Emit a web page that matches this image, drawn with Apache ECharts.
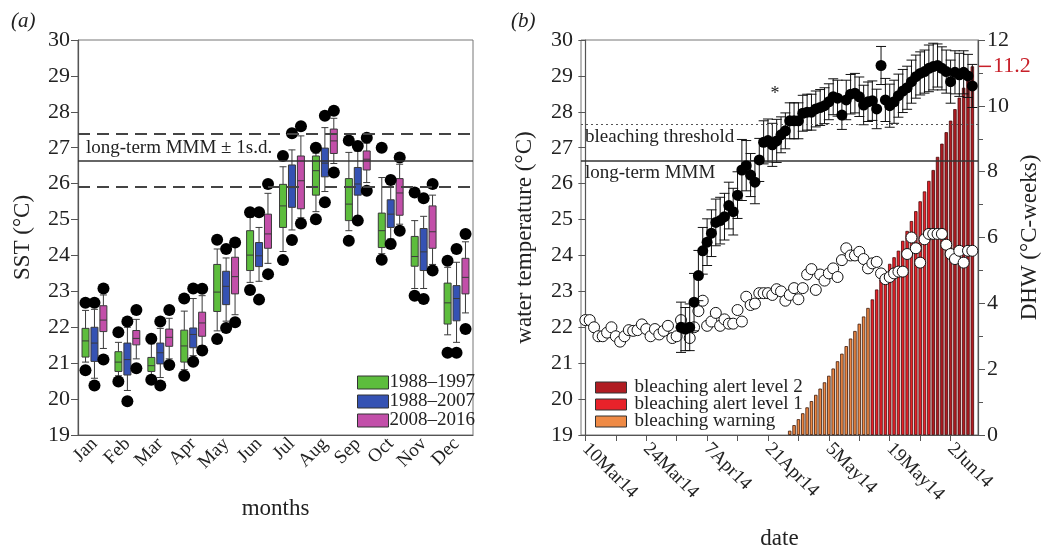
<!DOCTYPE html>
<html>
<head>
<meta charset="utf-8">
<script src="https://cdn.jsdelivr.net/npm/echarts@6/dist/echarts.min.js"></script>
<style>
  html, body { margin: 0; padding: 0; background: #fff; }
  #main { width: 1053px; height: 546px; }
</style>
</head>
<body>
<div id="main"></div>
<script>
// ---- panel (a): monthly SST ----
var months = ["Jan", "Feb", "Mar", "Apr", "May", "Jun", "Jul", "Aug", "Sep", "Oct", "Nov", "Dec"];
var periods = ["1988–1997", "1988–2007", "2008–2016"];
// [min, Q1, median, Q3, max]
var box8897 = [
  [21.03, 21.17, 21.62, 21.97, 22.47], [20.65, 20.77, 21.03, 21.32, 21.58],
  [20.6, 20.77, 20.93, 21.16, 21.54], [20.82, 21.03, 21.48, 21.92, 22.45],
  [21.9, 22.44, 22.98, 23.75, 24.18], [23.25, 23.58, 24.01, 24.69, 25.06],
  [24.11, 24.78, 25.38, 25.98, 26.47], [25.22, 25.68, 26.36, 26.77, 26.85],
  [24.69, 24.97, 25.43, 26.14, 26.87], [24.05, 24.22, 24.69, 25.18, 26.17],
  [23.08, 23.7, 23.97, 24.53, 24.97], [21.79, 22.09, 22.68, 23.23, 23.67]
];
var box8807 = [
  [20.58, 21.05, 21.56, 22.0, 22.5], [20.24, 20.67, 21.1, 21.56, 22.0],
  [20.6, 20.98, 21.29, 21.56, 21.97], [21.21, 21.43, 21.8, 21.98, 22.8],
  [22.17, 22.63, 23.14, 23.56, 23.93], [23.28, 23.69, 23.99, 24.36, 24.78],
  [24.71, 25.34, 25.89, 26.52, 26.94], [25.78, 26.19, 26.57, 26.99, 27.56],
  [25.1, 25.68, 25.99, 26.45, 26.9], [24.46, 24.78, 25.15, 25.55, 26.0],
  [23.08, 23.58, 24.1, 24.75, 25.09], [21.58, 22.18, 22.8, 23.16, 23.81]
];
var box0816 = [
  [21.41, 21.88, 22.2, 22.6, 22.9], [21.12, 21.51, 21.69, 21.91, 22.22],
  [21.12, 21.47, 21.72, 21.95, 22.25], [21.49, 21.75, 22.12, 22.42, 22.88],
  [22.35, 22.93, 23.41, 23.95, 24.32], [23.78, 24.2, 24.6, 25.15, 25.73],
  [25.05, 25.3, 26.08, 26.77, 27.33], [26.56, 26.84, 27.19, 27.52, 27.82],
  [26.03, 26.38, 26.68, 26.91, 27.13], [24.87, 25.12, 25.74, 26.14, 26.54],
  [23.75, 24.2, 24.66, 25.38, 25.68], [22.4, 22.93, 23.39, 23.92, 24.38]
];
// outliers: [high, low] per month
var out8897 = [[22.68, 20.8], [21.86, 20.49], [21.68, 20.54], [22.8, 20.65], [24.44, 21.67], [25.2, 23.04],
  [26.77, 23.87], [27.0, 25.01], [27.2, 24.41], [27.0, 23.88], [25.75, 22.88], [23.85, 21.29]];
var out8807 = [[22.68, 20.38], [22.16, 19.94], [22.16, 20.38], [23.08, 21.04], [24.18, 21.98], [25.2, 22.77],
  [27.4, 24.43], [27.89, 25.48], [27.05, 24.97], [26.1, 24.32], [25.59, 22.79], [24.18, 21.29]];
var out0816 = [[23.08, 21.1], [22.48, 20.86], [22.48, 20.95], [23.07, 21.35], [24.36, 22.14], [25.99, 23.48],
  [27.6, 24.89], [28.03, 26.31], [27.28, 25.8], [26.73, 24.69], [25.99, 23.58], [24.6, 21.95]];
var mmm = 26.65;
var mmmSd = 0.75;

// ---- panel (b): 2014 daily series, day 0 = 10 Mar 2014 ----
var dateTickDays = [0, 14, 28, 42, 56, 70, 84];
var dateLabels = ["10Mar14", "24Mar14", "7Apr14", "21Apr14", "5May14", "19May14", "2Jun14"];
var weekTickDays = [0, 7, 14, 21, 28, 35, 42, 49, 56, 63, 70, 77, 84];
// open circles, from day 0
var openTemp = [
  22.2, 22.2, 22.0, 21.75, 21.75, 21.85, 22.0, 21.75, 21.6, 21.75,
  21.92, 21.9, 21.92, 22.08, 21.95, 21.75, 21.95, 21.8, 21.9, 22.04,
  21.7, 21.75, 22.2, 21.97, 21.7, 22.0, 22.45, 22.74, 22.04, 22.16,
  22.4, 22.04, 22.22, 22.1, 22.1, 22.48, 22.16, 22.85, 22.62, 22.66,
  22.95, 22.95, 22.95, 22.9, 23.06, 23.0, 22.74, 22.9, 23.09, 22.78,
  23.09, 23.47, 23.62, 23.04, 23.47, 23.3, 23.5, 23.64, 23.4, 23.87,
  24.2, 24.0, 24.0, 24.1, 23.9, 23.64, 23.78, 23.82, 23.5, 23.34,
  23.4, 23.5, 23.55, 23.55, 24.04, 24.5, 24.2, 23.8, 24.45, 24.6,
  24.6, 24.6, 24.6, 24.3, 24.04, 23.9, 24.13, 23.8, 24.13, 24.13
];
// filled circles (mean ± sd), from day 22
var meanStart = 22;
var meanTemp = [
  22.0, 21.95, 22.0, 22.7, 23.44, 24.13, 24.37, 24.62, 24.92, 24.97,
  25.08, 25.39, 25.22, 25.68, 26.38, 26.5, 26.24, 26.04, 26.66, 27.15,
  27.2, 27.08, 27.19, 27.36, 27.47, 27.75, 27.75, 27.75, 27.96, 27.99,
  27.99, 28.08, 28.12, 28.17, 28.28, 28.42, 28.38, 27.91, 28.33, 28.49,
  28.52, 28.42, 28.19, 28.28, 28.31, 28.08, 29.29, 28.33, 28.17, 28.28,
  28.45, 28.58, 28.67, 28.84, 28.98, 29.07, 29.12, 29.21, 29.26, 29.29,
  29.21, 29.12, 28.84, 29.1, 29.03, 29.1, 29.0, 28.72
];
var meanSd = [
  0.7, 0.6, 0.65, 0.8, 0.7, 0.65, 0.65, 0.65, 0.65, 0.65,
  0.65, 0.65, 0.65, 0.65, 0.85, 0.7, 0.6, 0.6, 0.6, 0.6,
  0.6, 0.6, 0.6, 0.5, 0.5, 0.5, 0.5, 0.5, 0.5, 0.5,
  0.5, 0.5, 0.5, 0.5, 0.5, 0.5, 0.5, 0.4, 0.55, 0.55,
  0.55, 0.55, 0.55, 0.55, 0.55, 0.55, 0.53, 0.6, 0.6, 0.6,
  0.6, 0.6, 0.6, 0.6, 0.6, 0.6, 0.6, 0.65, 0.65, 0.6,
  0.6, 0.6, 0.6, 0.6, 0.6, 0.6, 0.6, 0.6
];
// degree heating weeks, from day 47
var dhwStart = 47;
var dhw = [
  0.13, 0.3, 0.48, 0.66, 0.84, 1.03, 1.22, 1.41, 1.6, 1.8,
  2.02, 2.24, 2.47, 2.7, 2.93, 3.16, 3.38, 3.6, 3.86, 4.12,
  4.42, 4.72, 4.98, 5.2, 5.4, 5.6, 5.9, 6.2, 6.5, 6.8,
  7.1, 7.4, 7.72, 8.05, 8.45, 8.85, 9.2, 9.55, 9.9, 10.25,
  10.55, 10.9, 11.2
];
var dhwPeak = 11.2;
var bleachThreshold = 27.65;
var alertNames = ["bleaching alert level 2", "bleaching alert level 1", "bleaching warning"];

var serif = "Liberation Serif";
var txt = "#222";

var colGreen = "#5dbd3d", colBlue = "#3552b3", colPink = "#c24fa9";
var colAlert2 = "#b01c22", colAlert1 = "#e8222a", colWarn = "#ef8a45";

function outlierData(arr) {
  var d = [];
  arr.forEach(function (p, i) { d.push([i, p[0]]); d.push([i, p[1]]); });
  return d;
}

function dhwData(lo, hi) {
  var d = [];
  dhw.forEach(function (v, i) {
    if (v >= lo && v < hi) d.push([dhwStart + i, v]);
  });
  return d;
}

var meanData = meanTemp.map(function (v, i) { return [meanStart + i, v]; });
var errData = meanTemp.map(function (v, i) { return [meanStart + i, v - meanSd[i], v + meanSd[i]]; });
var openData = openTemp.map(function (v, i) { return [i, v]; });

function renderErrorBar(params, api) {
  var x = api.value(0);
  var bot = api.coord([x, api.value(1)]);
  var top = api.coord([x, api.value(2)]);
  var half = 5;
  var st = { stroke: "#111", lineWidth: 1 };
  return {
    type: "group",
    children: [
      { type: "line", shape: { x1: top[0], y1: top[1], x2: bot[0], y2: bot[1] }, style: st },
      { type: "line", shape: { x1: top[0] - half, y1: top[1], x2: top[0] + half, y2: top[1] }, style: st },
      { type: "line", shape: { x1: bot[0] - half, y1: bot[1], x2: bot[0] + half, y2: bot[1] }, style: st }
    ]
  };
}

var axisLineStyle = { color: "#555", width: 1.2 };
var nameStyle = { color: txt, fontFamily: serif, fontSize: 23 };

function boxSeries(name, data, color) {
  return {
    name: name,
    type: "boxplot",
    xAxisIndex: 0,
    yAxisIndex: 0,
    boxWidth: [7, 7],
    data: data,
    itemStyle: { color: color, borderColor: "#3a3a3a", borderWidth: 1 },
    z: 3
  };
}

function outSeries(arr, offset) {
  return {
    type: "scatter",
    xAxisIndex: 0,
    yAxisIndex: 0,
    data: outlierData(arr),
    symbolSize: 12,
    symbolOffset: [offset, 0],
    itemStyle: { color: "#000", opacity: 1 },
    z: 4
  };
}

var option = {
  animation: false,
  textStyle: { fontFamily: serif },
  title: [
    { text: "(a)", left: 6, top: 6, textStyle: { fontFamily: serif, fontStyle: "italic", fontWeight: "normal", fontSize: 21, color: txt } },
    { text: "(b)", left: 506, top: 6, textStyle: { fontFamily: serif, fontStyle: "italic", fontWeight: "normal", fontSize: 21, color: txt } }
  ],
  legend: [
    {
      data: [
        { name: periods[0], itemStyle: { color: colGreen } },
        { name: periods[1], itemStyle: { color: colBlue } },
        { name: periods[2], itemStyle: { color: colPink } }
      ],
      orient: "vertical",
      left: 352,
      top: 368,
      itemWidth: 31,
      itemHeight: 13,
      itemGap: 0,
      icon: "rect",
      selectedMode: false,
      itemStyle: { borderColor: "#333", borderWidth: 1 },
      textStyle: { fontFamily: serif, fontSize: 19, color: txt, padding: [0, 0, 0, -4] }
    },
    {
      data: alertNames,
      orient: "vertical",
      left: 590,
      top: 373,
      itemWidth: 31,
      itemHeight: 11,
      itemGap: -2,
      icon: "rect",
      selectedMode: false,
      itemStyle: { borderColor: "#333", borderWidth: 1 },
      textStyle: { fontFamily: serif, fontSize: 19, color: txt, padding: [0, 0, 0, 3] }
    }
  ],
  grid: [
    { left: 78, top: 40, width: 395, height: 395, show: true, borderColor: "#777", borderWidth: 1, outerBoundsMode: "none", containLabel: false },
    { left: 581, top: 40, width: 397, height: 395, show: true, borderColor: "#777", borderWidth: 1, outerBoundsMode: "none", containLabel: false }
  ],
  xAxis: [
    {
      type: "category",
      gridIndex: 0,
      data: months,
      boundaryGap: true,
      name: "months",
      nameLocation: "middle",
      nameGap: 62,
      nameTextStyle: nameStyle,
      axisLine: { lineStyle: axisLineStyle },
      axisTick: { alignWithLabel: true, length: 6, lineStyle: { color: "#555" } },
      axisLabel: { interval: 0, rotate: 45, margin: 6, color: txt, fontFamily: serif, fontSize: 19 }
    },
    {
      type: "value",
      gridIndex: 1,
      min: -1,
      max: 90.3,
      name: "date",
      nameLocation: "middle",
      nameGap: 92,
      nameTextStyle: nameStyle,
      splitLine: { show: false },
      axisLine: { lineStyle: axisLineStyle },
      axisTick: { customValues: weekTickDays, length: 6, lineStyle: { color: "#555" } },
      axisLabel: {
        customValues: dateTickDays,
        rotate: -45,
        margin: 11,
        color: txt,
        fontFamily: serif,
        fontSize: 19,
        formatter: function (v) { return dateLabels[dateTickDays.indexOf(v)]; }
      }
    }
  ],
  yAxis: [
    {
      type: "value",
      gridIndex: 0,
      min: 19,
      max: 30,
      interval: 1,
      name: "SST (°C)",
      nameLocation: "middle",
      nameGap: 44,
      nameTextStyle: nameStyle,
      splitLine: { show: false },
      axisLine: { show: true, lineStyle: axisLineStyle },
      axisTick: { show: true, length: 7, lineStyle: { color: "#555" } },
      axisLabel: { margin: 8, color: txt, fontFamily: serif, fontSize: 22 }
    },
    {
      type: "value",
      gridIndex: 1,
      min: 19,
      max: 30,
      interval: 1,
      position: "left",
      name: "water temperature (°C)",
      nameLocation: "middle",
      nameGap: 45,
      nameTextStyle: nameStyle,
      splitLine: { show: false },
      axisLine: { show: true, lineStyle: axisLineStyle },
      axisTick: { show: true, length: 7, lineStyle: { color: "#555" } },
      axisLabel: { margin: 8, color: txt, fontFamily: serif, fontSize: 22 }
    },
    {
      type: "value",
      gridIndex: 1,
      min: 0,
      max: 12,
      interval: 2,
      position: "right",
      name: "DHW (°C-weeks)",
      nameLocation: "middle",
      nameRotate: 90,
      nameGap: 40,
      nameMoveOverlap: false,
      nameTextStyle: nameStyle,
      splitLine: { show: false },
      axisLine: { show: true, lineStyle: axisLineStyle },
      axisTick: { show: true, length: 7, lineStyle: { color: "#555" } },
      minorTick: { show: true, splitNumber: 2, length: 5, lineStyle: { color: "#555" } },
      axisLabel: {
        customValues: [0, 2, 4, 6, 8, 10, dhwPeak, 12],
        margin: 1,
        formatter: function (v) {
          if (Math.abs(v - dhwPeak) < 1e-6) return "{tk|}{hl|" + dhwPeak + "}";
          return "{n|" + v + "}";
        },
        rich: {
          n: { color: txt, fontFamily: serif, fontSize: 22, padding: [0, 0, 0, 8] },
          tk: { width: 12, height: 1.5, backgroundColor: "#c8202a" },
          hl: { color: "#c8202a", fontFamily: serif, fontSize: 22, padding: [0, 0, 0, 2] }
        }
      }
    }
  ],
  series: [
    Object.assign(boxSeries(periods[0], box8897, colGreen), {
      markLine: {
        silent: true,
        symbol: "none",
        label: { show: false },
        lineStyle: { color: "#444", width: 2, type: [12, 7] },
        data: [
          { yAxis: mmm + mmmSd },
          {
            yAxis: mmm,
            lineStyle: { type: "solid", width: 1.5, color: "#333" },
            label: {
              show: true,
              position: "insideStartTop",
              formatter: "long-term MMM ± 1s.d.",
              color: txt,
              fontFamily: serif,
              fontSize: 19,
              distance: [8, 3]
            }
          },
          { yAxis: mmm - mmmSd }
        ]
      }
    }),
    boxSeries(periods[1], box8807, colBlue),
    boxSeries(periods[2], box0816, colPink),
    outSeries(out8897, -9),
    outSeries(out8807, 0),
    outSeries(out0816, 9),

    {
      name: alertNames[2],
      type: "bar",
      xAxisIndex: 1,
      yAxisIndex: 2,
      barWidth: 3.4,
      barGap: "-100%",
      data: dhwData(0, 4),
      itemStyle: { color: colWarn, borderColor: "#3a1608", borderWidth: 0.8 },
      z: 1
    },
    {
      name: alertNames[1],
      type: "bar",
      xAxisIndex: 1,
      yAxisIndex: 2,
      barWidth: 3.4,
      barGap: "-100%",
      data: dhwData(4, 8),
      itemStyle: { color: colAlert1, borderColor: "#4a0a0a", borderWidth: 0.8 },
      z: 1
    },
    {
      name: alertNames[0],
      type: "bar",
      xAxisIndex: 1,
      yAxisIndex: 2,
      barWidth: 3.4,
      barGap: "-100%",
      data: dhwData(8, 99),
      itemStyle: { color: colAlert2, borderColor: "#4a0a0a", borderWidth: 0.8 },
      z: 1
    },
    {
      type: "scatter",
      xAxisIndex: 1,
      yAxisIndex: 1,
      data: openData,
      symbolSize: 11,
      itemStyle: { color: "#fff", borderColor: "#111", borderWidth: 1, opacity: 1 },
      z: 3,
      markLine: {
        silent: true,
        symbol: "none",
        data: [
          {
            yAxis: bleachThreshold,
            lineStyle: { type: [2, 3], width: 1.2, color: "#555" },
            label: { show: true, position: "insideStartBottom", formatter: "bleaching threshold", color: txt, fontFamily: serif, fontSize: 19, distance: [4, 3] }
          },
          {
            yAxis: mmm,
            lineStyle: { type: "solid", width: 1.5, color: "#333" },
            label: { show: true, position: "insideStartBottom", formatter: "long-term MMM", color: txt, fontFamily: serif, fontSize: 19, distance: [4, 3] }
          }
        ]
      }
    },
    {
      type: "custom",
      xAxisIndex: 1,
      yAxisIndex: 1,
      renderItem: renderErrorBar,
      encode: { x: 0, y: [1, 2] },
      data: errData,
      z: 4
    },
    {
      type: "scatter",
      xAxisIndex: 1,
      yAxisIndex: 1,
      data: meanData,
      symbolSize: 11,
      itemStyle: { color: "#000", opacity: 1 },
      z: 5,
      markPoint: {
        silent: true,
        symbol: "circle",
        symbolSize: 1,
        itemStyle: { color: "rgba(0,0,0,0)" },
        label: { show: true, formatter: "*", position: "inside", color: txt, fontFamily: serif, fontSize: 18 },
        data: [{ coord: [43.6, 28.5] }]
      }
    }
  ]
};

var chart = echarts.init(document.getElementById("main"));
chart.setOption(option);
</script>
</body>
</html>
